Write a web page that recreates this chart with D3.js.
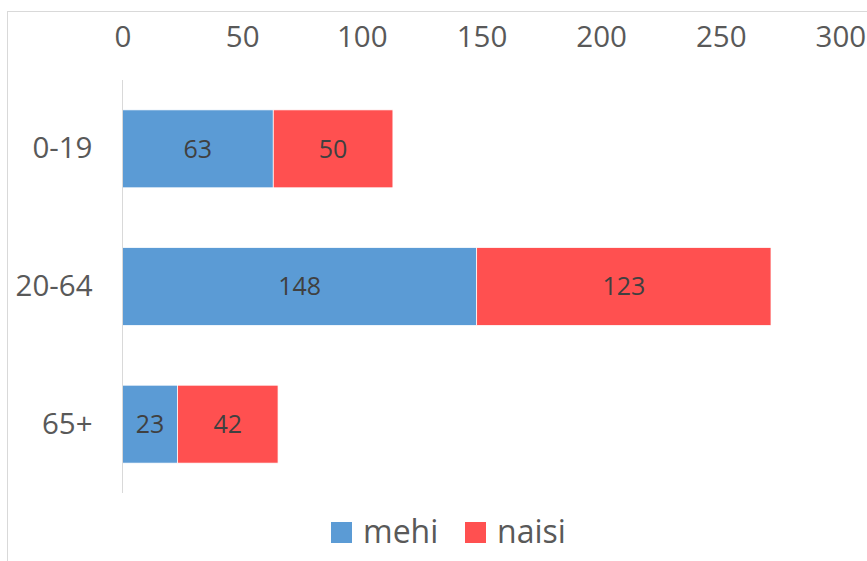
<!DOCTYPE html>
<html>
<head>
<meta charset="utf-8">
<script src="https://cdn.jsdelivr.net/npm/d3@7"></script>
<style>
  body { margin: 0; background: #fff; }
  svg text { font-family: "Open Sans", "Noto Sans", sans-serif; }
</style>
</head>
<body>
<div id="chart"></div>
<script>
const categories = ['0-19', '20-64', '65+'];
const seriesNames = ['mehi', 'naisi'];
const mehi = [63, 148, 23];
const naisi = [50, 123, 42];
const tickValues = [0, 50, 100, 150, 200, 250, 300];

const colors = { mehi: '#5b9bd5', naisi: '#ff5050' };

const W = 867, H = 561;
const margin = { top: 80, left: 122.5 };
const plotW = 717.9, plotH = 413;

const svg = d3.select('#chart').append('svg')
    .attr('width', W)
    .attr('height', H);

// chart border
svg.append('rect')
    .attr('x', 7.5).attr('y', 11.5)
    .attr('width', 900).attr('height', 600)
    .attr('fill', 'none')
    .attr('stroke', '#d9d9d9');

let table = categories.map((c, i) => ({ cat: c, mehi: mehi[i], naisi: naisi[i] }));
let stacked = d3.stack().keys(seriesNames)(table);

let x = d3.scaleLinear().domain([0, 300]).range([0, plotW]);
let y = d3.scaleBand().domain(categories).range([0, plotH])
    .paddingInner(0.434).paddingOuter(0.217);

const g = svg.append('g')
    .attr('transform', 'translate(' + margin.left + ',' + margin.top + ')');

// top axis labels
const xAxis = g.append('g')
    .attr('transform', 'translate(0,-33)')
    .call(d3.axisTop(x).tickValues(tickValues).tickSize(0).tickPadding(0));
xAxis.select('.domain').remove();
xAxis.selectAll('text')
    .attr('fill', '#595959')
    .style('font-size', '29.5px');

// left axis labels
const yAxis = g.append('g')
    .call(d3.axisLeft(y).tickSize(0).tickPadding(30));
yAxis.select('.domain').remove();
yAxis.selectAll('text')
    .attr('fill', '#595959')
    .style('font-size', '29.5px');

// bars
const layer = g.selectAll('g.layer')
    .data(stacked)
    .enter().append('g')
    .attr('class', 'layer')
    .attr('fill', d => colors[d.key]);

layer.selectAll('rect')
    .data(d => d)
    .enter().append('rect')
    .attr('x', d => x(d[0]))
    .attr('y', d => y(d.data.cat))
    .attr('width', d => x(d[1]) - x(d[0]))
    .attr('height', y.bandwidth())
    .attr('stroke', '#fff')
    .attr('stroke-width', 0.75);

layer.selectAll('text')
    .data(d => d)
    .enter().append('text')
    .attr('x', d => (x(d[0]) + x(d[1])) / 2)
    .attr('y', d => y(d.data.cat) + y.bandwidth() / 2)
    .attr('dy', '0.35em')
    .attr('text-anchor', 'middle')
    .attr('fill', '#404040')
    .style('font-size', '25px')
    .text(d => d[1] - d[0]);

// vertical axis line
g.append('line')
    .attr('x1', 0).attr('x2', 0)
    .attr('y1', 0).attr('y2', plotH)
    .attr('stroke', '#d9d9d9')
    .attr('stroke-width', 1);

// legend
const legend = svg.append('g').attr('transform', 'translate(331,522)');
const legendX = [0, 134];
seriesNames.forEach((s, i) => {
    let item = legend.append('g').attr('transform', 'translate(' + legendX[i] + ',0)');
    item.append('rect')
        .attr('width', 21).attr('height', 21)
        .attr('fill', colors[s]);
    item.append('text')
        .attr('x', 32).attr('y', 21)
        .attr('fill', '#595959')
        .style('font-size', '32px')
        .text(s);
});
</script>
</body>
</html>
